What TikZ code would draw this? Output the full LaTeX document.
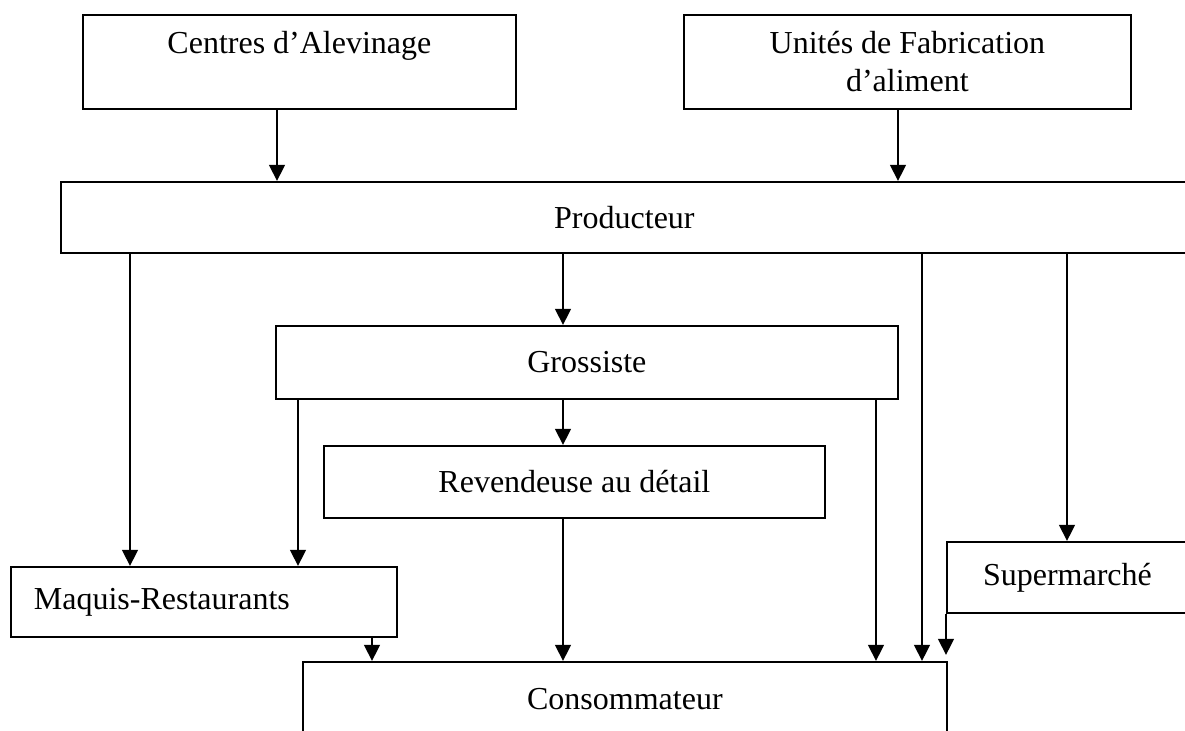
\documentclass[tikz,border=0pt]{standalone}
\usepackage{fontspec}
\setmainfont{Liberation Serif}
\usetikzlibrary{arrows.meta}
\tikzset{box/.style={draw,anchor=north west,inner sep=0pt,line width=0.9pt,align=center,font=\fontsize{16}{19}\selectfont},arr/.style={-{Triangle[length=8pt,width=7.8pt]},line width=0.9pt}}

\begin{document}
\begin{tikzpicture}[x=0.5pt,y=-0.5pt]
\useasboundingbox (0,0) rectangle (1185,731);
\clip (0,0) rectangle (1185,731);
% suppliers
\node[box,minimum width=216.5pt,minimum height=47pt] (alev) at (82,14) {Centres d'Alevinage\\\mbox{}};
\node[box,minimum width=223.5pt,minimum height=47pt] (fab) at (683,14) {Unités de Fabrication\\d'aliment};
\node[box,minimum width=563.5pt,minimum height=35.5pt] (prod) at (60,181) {Producteur};
% distribution
\node[box,minimum width=311pt,minimum height=36.5pt] (gros) at (275,325) {Grossiste};
\node[box,minimum width=250.5pt,minimum height=36pt] (rev) at (323,445) {Revendeuse au détail};
\node[box,minimum width=193pt,minimum height=35pt,text width=170pt,align=left] (maq) at (10,566) {Maquis-Restaurants};
\node[box,minimum width=120.5pt,minimum height=35.5pt] (sup) at (946,541) {Supermarché};
\node[box,minimum width=322pt,minimum height=37pt] (conso) at (302,661) {Consommateur};
\foreach \from/\to/\x in {alev/prod/277,fab/prod/898,prod/maq/130,prod/gros/563,prod/conso/922,prod/sup/1067,gros/maq/298,gros/rev/563,gros/conso/876,rev/conso/563,maq/conso/372}
  \draw[arr] (\from.south -| \x,0) -- (\to.north -| \x,0);
\draw[arr] (sup.south west) -- ([yshift=3pt]conso.north -| sup.south west);
\end{tikzpicture}
\end{document}
